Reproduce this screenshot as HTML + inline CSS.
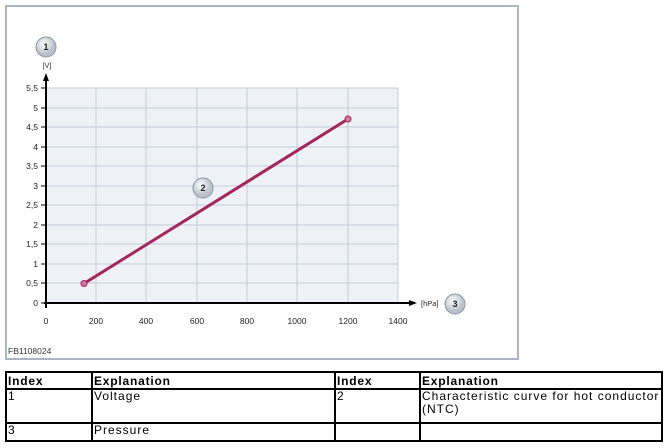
<!DOCTYPE html><html><head><style>
body{margin:0;width:669px;height:448px;background:#fff;position:relative;font-family:"Liberation Sans",sans-serif;overflow:hidden}
.frame{position:absolute;left:5px;top:5px;width:510px;height:351px;border:2px solid #aab4c5}
table{position:absolute;left:5px;top:371px;border-collapse:collapse;font-size:12px}
td{border:2px solid #000;padding:0 1px;vertical-align:top;line-height:13px;letter-spacing:1px}
th{border:2px solid #000;padding:0 1px;text-align:left;font-size:12px;height:15px;letter-spacing:0.8px}
</style></head><body>
<div class="frame"></div>
<svg width="669" height="370" style="position:absolute;left:0;top:0" font-family="Liberation Sans,sans-serif">
<defs><radialGradient id="g" cx="40%" cy="35%"><stop offset="0" stop-color="#fff"/><stop offset="1" stop-color="#b9c1cc"/></radialGradient></defs>
<rect x="46" y="88" width="352" height="215" fill="#eef1f6"/>
<g stroke="#c5cbd8" stroke-width="1">
<line x1="96" y1="88" x2="96" y2="303"/><line x1="146" y1="88" x2="146" y2="303"/><line x1="197" y1="88" x2="197" y2="303"/><line x1="247" y1="88" x2="247" y2="303"/><line x1="297" y1="88" x2="297" y2="303"/><line x1="348" y1="88" x2="348" y2="303"/><line x1="398" y1="88" x2="398" y2="303"/>
<line x1="46" y1="88" x2="398" y2="88"/><line x1="46" y1="108" x2="398" y2="108"/><line x1="46" y1="127" x2="398" y2="127"/><line x1="46" y1="147" x2="398" y2="147"/><line x1="46" y1="166" x2="398" y2="166"/><line x1="46" y1="186" x2="398" y2="186"/><line x1="46" y1="205" x2="398" y2="205"/><line x1="46" y1="225" x2="398" y2="225"/><line x1="46" y1="244" x2="398" y2="244"/><line x1="46" y1="264" x2="398" y2="264"/><line x1="46" y1="283" x2="398" y2="283"/>
</g>
<g stroke="#000" stroke-width="1">
<line x1="41" y1="88" x2="46" y2="88"/><line x1="41" y1="108" x2="46" y2="108"/><line x1="41" y1="127" x2="46" y2="127"/><line x1="41" y1="147" x2="46" y2="147"/><line x1="41" y1="166" x2="46" y2="166"/><line x1="41" y1="186" x2="46" y2="186"/><line x1="41" y1="205" x2="46" y2="205"/><line x1="41" y1="225" x2="46" y2="225"/><line x1="41" y1="244" x2="46" y2="244"/><line x1="41" y1="264" x2="46" y2="264"/><line x1="41" y1="283" x2="46" y2="283"/><line x1="41" y1="303" x2="46" y2="303"/>
</g>
<line x1="46" y1="308" x2="46" y2="80" stroke="#000" stroke-width="2"/>
<polygon points="46,73 43,81 49,81" fill="#000"/>
<line x1="44" y1="303" x2="410" y2="303" stroke="#000" stroke-width="2"/>
<polygon points="417,303 409,300 409,306" fill="#000"/>
<line x1="84" y1="283.5" x2="348" y2="119" stroke="#a3275f" stroke-width="3"/>
<circle cx="84" cy="283.5" r="3" fill="#d07a9a" stroke="#a3275f"/>
<circle cx="348" cy="119" r="3" fill="#d07a9a" stroke="#a3275f"/>
<g font-size="8.5" fill="#222" text-anchor="end">
<text x="38" y="91">5,5</text><text x="38" y="111">5</text><text x="38" y="130">4,5</text><text x="38" y="150">4</text><text x="38" y="169">3,5</text><text x="38" y="189">3</text><text x="38" y="208">2,5</text><text x="38" y="228">2</text><text x="38" y="247">1,5</text><text x="38" y="267">1</text><text x="38" y="286">0,5</text><text x="38" y="306">0</text>
</g>
<g font-size="8.5" fill="#222" text-anchor="middle">
<text x="46" y="324">0</text><text x="96" y="324">200</text><text x="146" y="324">400</text><text x="197" y="324">600</text><text x="247" y="324">800</text><text x="297" y="324">1000</text><text x="348" y="324">1200</text><text x="398" y="324">1400</text>
<text x="47" y="68" font-size="7">[V]</text>
</g>
<text x="421" y="306" font-size="7.5" fill="#222">[hPa]</text>
<text x="8" y="354" font-size="8.5" fill="#333">FB1108024</text>
<g font-size="9" font-weight="bold" text-anchor="middle" fill="#222">
<circle cx="46" cy="47" r="10" fill="url(#g)" stroke="#8a94a3"/><text x="46" y="50">1</text>
<circle cx="203" cy="188" r="10" fill="url(#g)" stroke="#8a94a3"/><text x="203" y="191">2</text>
<circle cx="455" cy="304" r="10" fill="url(#g)" stroke="#8a94a3"/><text x="455" y="307">3</text>
</g>
</svg>
<table>
<tr><th style="width:82px">Index</th><th style="width:239px">Explanation</th><th style="width:81px">Index</th><th style="width:238px">Explanation</th></tr>
<tr><td style="height:32px">1</td><td>Voltage</td><td>2</td><td>Characteristic curve for hot conductor (NTC)</td></tr>
<tr><td style="height:16px">3</td><td>Pressure</td><td></td><td></td></tr>
</table>
</body></html>
